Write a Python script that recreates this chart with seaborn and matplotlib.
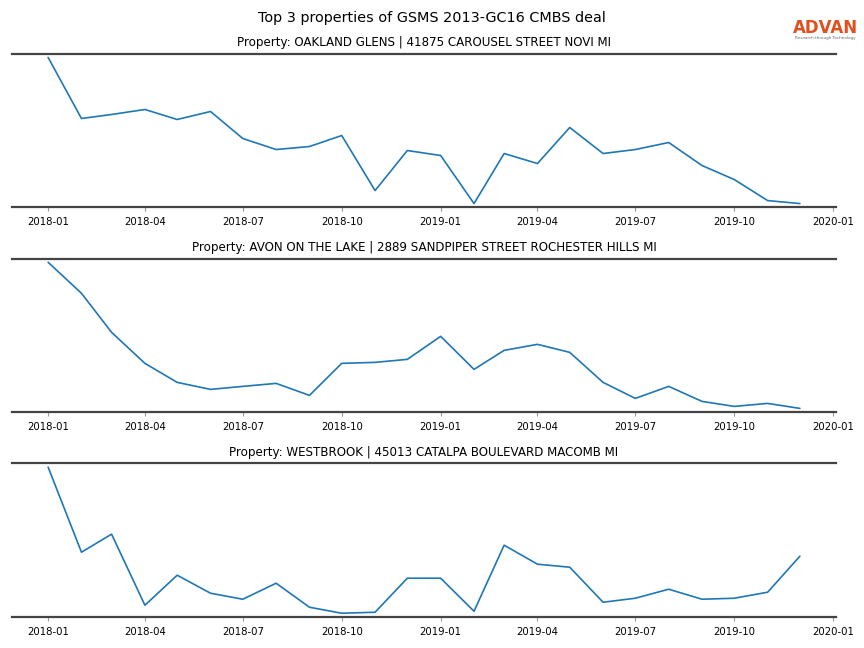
import matplotlib
matplotlib.use("Agg")
import matplotlib.pyplot as plt
import pandas as pd
import seaborn as sns

sns.set_style("white")
plt.rcParams["font.family"] = ["DejaVu Sans"]
plt.rcParams["text.color"] = "black"
plt.rcParams["xtick.color"] = "#999999"
plt.rcParams["xtick.labelcolor"] = "black"

MONTHS = pd.date_range("2018-01-01", "2019-12-01", freq="MS")

TITLE = "Top 3 properties of GSMS 2013-GC16 CMBS deal"
PROPERTIES = [
    "Property: OAKLAND GLENS | 41875 CAROUSEL STREET NOVI MI",
    "Property: AVON ON THE LAKE | 2889 SANDPIPER STREET ROCHESTER HILLS MI",
    "Property: WESTBROOK | 45013 CATALPA BOULEVARD MACOMB MI",
]

# monthly foot-traffic (relative units)
oakland = [149, 88, 92, 97, 87, 95, 68, 57, 60, 71, 16, 56,
           51, 3, 53, 43, 79, 53, 57, 64, 41, 27, 6, 3]
avon = [147, 116, 77, 46, 27, 20, 23, 26, 14, 46, 47, 50,
        73, 40, 59, 65, 57, 27, 11, 23, 8, 3, 6, 1]
westbrook = [150, 65, 83, 12, 42, 24, 18, 34, 10, 4, 5, 39,
             39, 6, 72, 53, 50, 15, 19, 28, 18, 19, 25, 61]
SERIES = [oakland, avon, westbrook]

fig, axes = plt.subplots(3, 1, figsize=(8.64, 6.48), dpi=100)
fig.subplots_adjust(left=0.0135, right=0.968, top=0.917, bottom=0.048, hspace=0.335)

for ax, name, vals in zip(axes, PROPERTIES, SERIES):
    df = pd.DataFrame({"month": MONTHS, "visits": vals})
    sns.lineplot(data=df, x="month", y="visits", ax=ax, color="#1f77b4", lw=1.2)
    ax.margins(x=0.0485, y=0.025)
    ax.set_title(name, fontsize=8.6, pad=5.5, color="black")
    ax.set_xlabel("")
    ax.set_ylabel("")
    ax.set_yticks([])
    for side in ("left", "right"):
        ax.spines[side].set_visible(False)
    for side in ("top", "bottom"):
        ax.spines[side].set_color("#444444")
        ax.spines[side].set_linewidth(1.6)
    ax.tick_params(axis="x", bottom=True, length=3, width=0.8,
                   labelsize=7.3, pad=4)
    ax.xaxis.set_major_formatter(matplotlib.dates.DateFormatter("%Y-%m"))
    ax.xaxis.set_major_locator(matplotlib.dates.MonthLocator(bymonth=[1, 4, 7, 10]))

fig.suptitle(TITLE, fontsize=10.4, y=0.983, color="black")

# logo
fig.text(0.955, 0.957, "ADVAN", color="#e0501e", fontsize=12, ha="center",
         va="center", fontweight="semibold")
fig.text(0.955, 0.941, "Research through Technology", color="#666666",
         fontsize=3, ha="center", va="center")

fig.savefig("out.png", dpi=100, facecolor="white")
